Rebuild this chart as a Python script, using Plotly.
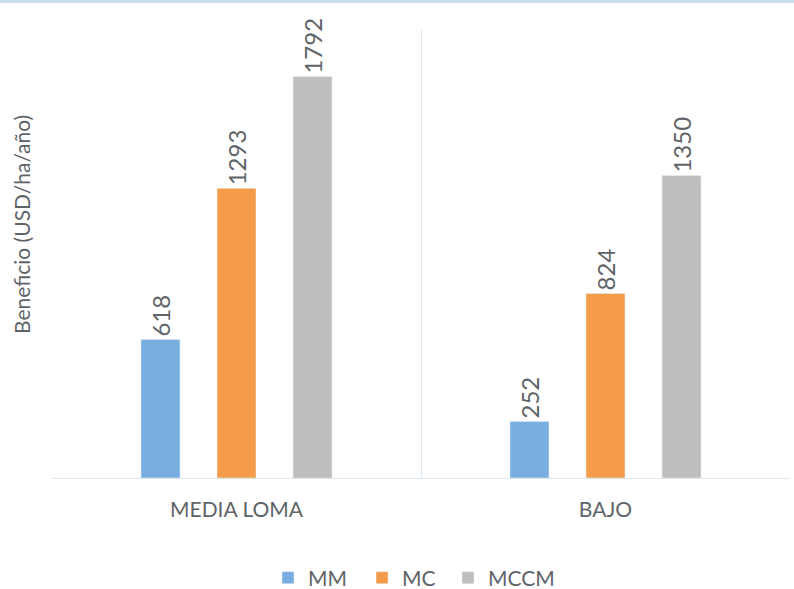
import plotly.graph_objects as go

categories = ["MEDIA LOMA", "BAJO"]
series_names = ["MM", "MC", "MCCM"]
mm_values = [618, 252]
mc_values = [1293, 824]
mccm_values = [1792, 1350]
colors = ["#79AEE0", "#F59C4B", "#BEBEBE"]
legend_ids = ["legend", "legend2", "legend3"]
legend_left_px = [268, 362, 448]

fig = go.Figure()
for name, vals, col, lg in zip(series_names, [mm_values, mc_values, mccm_values], colors, legend_ids):
    fig.add_trace(go.Bar(
        name=name, x=categories, y=vals, marker_color=col, legend=lg,
        text=[str(v) for v in vals], textposition="outside", textangle=-90,
        textfont=dict(size=24, color="#5f6468"), cliponaxis=False, constraintext="none",
    ))

font_family = "Lato, 'Open Sans', sans-serif"
legend_common = dict(orientation="h", xanchor="left", xref="container",
                     y=1 - 578/589, yanchor="middle", yref="container",
                     font=dict(size=21, color="#5f6468"), itemwidth=30,
                     bgcolor="rgba(0,0,0,0)")
layout_legends = {lg: dict(legend_common, x=px / 794) for lg, px in zip(legend_ids, legend_left_px)}

fig.update_layout(
    width=794, height=589,
    margin=dict(l=52, r=4, t=30, b=111, autoexpand=False),
    paper_bgcolor="white", plot_bgcolor="white",
    barmode="group", bargap=0.382, bargroupgap=0.487,
    font=dict(family=font_family, color="#5f6468"),
    showlegend=True,
    xaxis=dict(tickson="boundaries", showgrid=True, gridcolor="#DCE6EE", gridwidth=1,
               showline=True, linecolor="#DCE6EE", ticks="", tickfont=dict(size=21, color="#5f6468"),
               automargin=False, ticklabelstandoff=13),
    yaxis=dict(range=[0, 2000], showgrid=False, showticklabels=False, zeroline=False,
               showline=False, ticks="", automargin=False),
    shapes=[dict(type="rect", xref="paper", yref="paper", x0=-0.1, x1=1.1,
                 y0=1 + 27/448, y1=1 + 40/448, fillcolor="#C9DFEA", line_width=0, layer="above")],
    annotations=[dict(text="Beneficio (USD/ha/año)", xref="paper", yref="paper",
                      x=-30/738, y=(478-225)/448, textangle=-90, showarrow=False,
                      xanchor="center", yanchor="middle",
                      font=dict(size=21, color="#5f6468"))],
    **layout_legends,
)
fig.write_html("out.html")
